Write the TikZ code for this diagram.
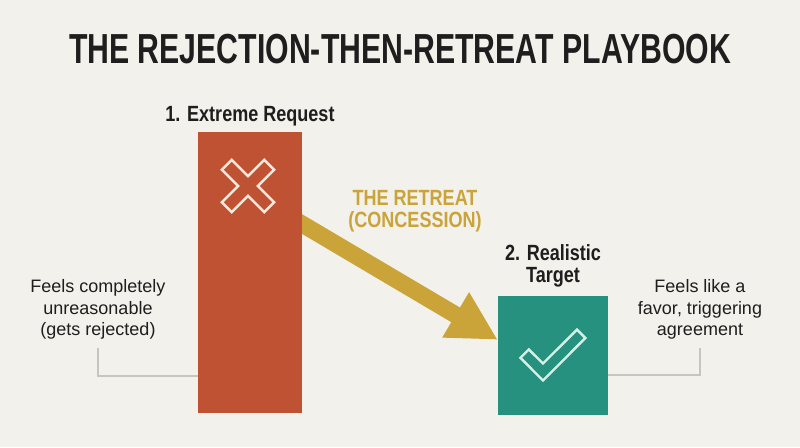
\documentclass[tikz,border=0pt]{standalone}
\usepackage{fontspec}
\setmainfont{Liberation Sans}
\newfontfamily\condfont{Liberation Sans}[FakeStretch=0.82]
\newfontfamily\headfont{Liberation Sans}[FakeStretch=0.72]
\usepackage{tikz}
\usetikzlibrary{arrows.meta,positioning,calc}
\usepackage{xcolor}

\definecolor{paper}{RGB}{242,241,235}
\definecolor{ink}{RGB}{30,30,30}
\definecolor{rejectred}{RGB}{192,82,52}
\definecolor{targetteal}{RGB}{38,145,126}
\definecolor{retreatgold}{RGB}{202,164,56}
\definecolor{leadergrey}{RGB}{198,198,192}
\definecolor{crossline}{RGB}{247,232,220}
\definecolor{checkline}{RGB}{214,240,232}

\tikzset{
  bar/.style={draw=none,inner sep=0pt,minimum width=104pt,minimum height=281pt},
  steplabel/.style={font=\condfont\bfseries\fontsize{22}{22}\selectfont,text=ink,align=center,inner sep=0pt},
  note/.style={font=\fontsize{18}{21.5}\selectfont,text=ink,align=center,inner sep=0pt},
  leader/.style={draw=leadergrey,line width=1.5pt},
  retreat/.style={draw=retreatgold,line width=17pt,-{Triangle[length=49pt,width=49pt]}}
}

\begin{document}
\begin{tikzpicture}[x=1pt,y=-1pt]
  \useasboundingbox[fill=paper] (0,0) rectangle (800,447);

  % title
  \node[anchor=base,inner sep=0pt,text=ink,font=\headfont\bfseries\fontsize{42}{42}\selectfont] (title) at (400,63) {THE REJECTION-THEN-RETREAT PLAYBOOK};

  % the two requests
  \node[bar,minimum width=110pt,minimum height=119pt,fill=targetteal] (target) at (553,355.5) {};
  \coordinate (tip) at ([yshift=-44pt]target.north west);
  \coordinate (tail) at (302,224);
  \draw[retreat] ($(tail)!-0.2!(tip)$) -- (tip);
  \node[bar,fill=rejectred] (req) at (250,272.5) {};

  \node[steplabel,anchor=base] (reqlbl) at (250,121) {1. Extreme Request};
  \node[steplabel] (tgtlbl) at (553,266.3) {2. Realistic\\Target};
  \node[steplabel,text=retreatgold] (retreatlbl) at (415,210.8) {THE RETREAT\\(CONCESSION)};

  % cross icon
  \draw[crossline,line width=2.4pt,line join=miter,shift={(248,186)},rotate=45]
    (7,-7) -- (30,-7) -- (30,7) -- (7,7) -- (7,30) -- (-7,30) -- (-7,7) -- (-30,7)
    -- (-30,-7) -- (-7,-7) -- (-7,-30) -- (7,-30) -- cycle;

  % check icon
  \draw[checkline,line width=2.4pt,line join=miter]
    (543,380.5) -- (520.4,357.8) -- (528.8,349.4) -- (543,363.5) -- (577,329.6) -- (585.4,338) -- cycle;

  % side notes
  \node[note] (feelleft) at (98,309.5) {Feels completely\\unreasonable\\(gets rejected)};
  \node[note] (feelright) at (700,309.5) {Feels like a\\favor, triggering\\agreement};
  \draw[leader] ([yshift=-8pt]feelleft.south) |- ([yshift=-103.5pt]req.west);
  \draw[leader] ([yshift=-19.5pt]target.east) -| ([yshift=-8pt]feelright.south);
\end{tikzpicture}
\end{document}
